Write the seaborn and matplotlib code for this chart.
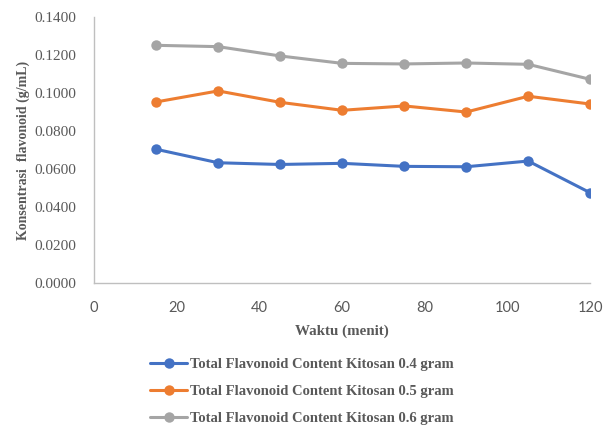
import numpy as np
import matplotlib
matplotlib.use("Agg")
import matplotlib.pyplot as plt
import pandas as pd
import seaborn as sns

# data
waktu = [15, 30, 45, 60, 75, 90, 105, 120]
kitosan_04 = [0.0704, 0.0633, 0.0624, 0.0630, 0.0614, 0.0612, 0.0642, 0.0475]
kitosan_05 = [0.0953, 0.1011, 0.0951, 0.0909, 0.0932, 0.0900, 0.0983, 0.0942]
kitosan_06 = [0.1251, 0.1244, 0.1195, 0.1156, 0.1153, 0.1158, 0.1151, 0.1072]
seri = ["Total Flavonoid Content Kitosan 0.4 gram",
        "Total Flavonoid Content Kitosan 0.5 gram",
        "Total Flavonoid Content Kitosan 0.6 gram"]
warna = ["#4472C4", "#ED7D31", "#A5A5A5"]

df = pd.DataFrame({
    "Waktu": waktu * 3,
    "Konsentrasi": kitosan_04 + kitosan_05 + kitosan_06,
    "Seri": [seri[0]] * 8 + [seri[1]] * 8 + [seri[2]] * 8,
})

sns.set_style("white")
plt.rcParams["font.family"] = ["Liberation Serif", "DejaVu Serif"]

fig = plt.figure(figsize=(6.11, 4.25), dpi=100)
ax = fig.add_axes([0.154, 0.334, 0.812, 0.626])

sns.lineplot(data=df, x="Waktu", y="Konsentrasi", hue="Seri", palette=warna,
             marker="o", markersize=7.5, markeredgewidth=0, linewidth=2.2,
             ax=ax, legend=True)

ax.set_xlim(0, 120)
ax.set_ylim(0, 0.14)
ax.set_xticks(np.arange(0, 121, 20))
ax.set_yticks(np.arange(0, 0.141, 0.02))
ax.set_yticklabels([f"{v:.4f}" for v in np.arange(0, 0.141, 0.02)])
ax.tick_params(axis="both", length=0, colors="#595959")
ax.tick_params(axis="y", pad=13, labelsize=11)
ax.tick_params(axis="x", pad=13, labelsize=10.5)
for lab in ax.get_xticklabels():
    lab.set_family(["Lato", "DejaVu Sans"])

for s in ["top", "right"]:
    ax.spines[s].set_visible(False)
for s in ["left", "bottom"]:
    ax.spines[s].set_color("#BFBFBF")
    ax.spines[s].set_linewidth(1)

ax.set_xlabel("Waktu (menit)", fontsize=10.8, fontweight="bold", color="#595959", labelpad=7)
ax.set_ylabel("Konsentrasi  flavonoid (g/mL)", fontsize=10, fontweight="bold",
              color="#595959", labelpad=3)

handles, labels = ax.get_legend_handles_labels()
ax.get_legend().remove()
leg = fig.legend(handles, labels, loc="upper center", bbox_to_anchor=(0.494, 0.189),
                 ncol=1, frameon=False, handlelength=2.6, handletextpad=0.2,
                 labelspacing=0.95, prop={"size": 10.5, "weight": "bold"})
for t in leg.get_texts():
    t.set_color("#595959")

fig.savefig("out.png", dpi=100)
